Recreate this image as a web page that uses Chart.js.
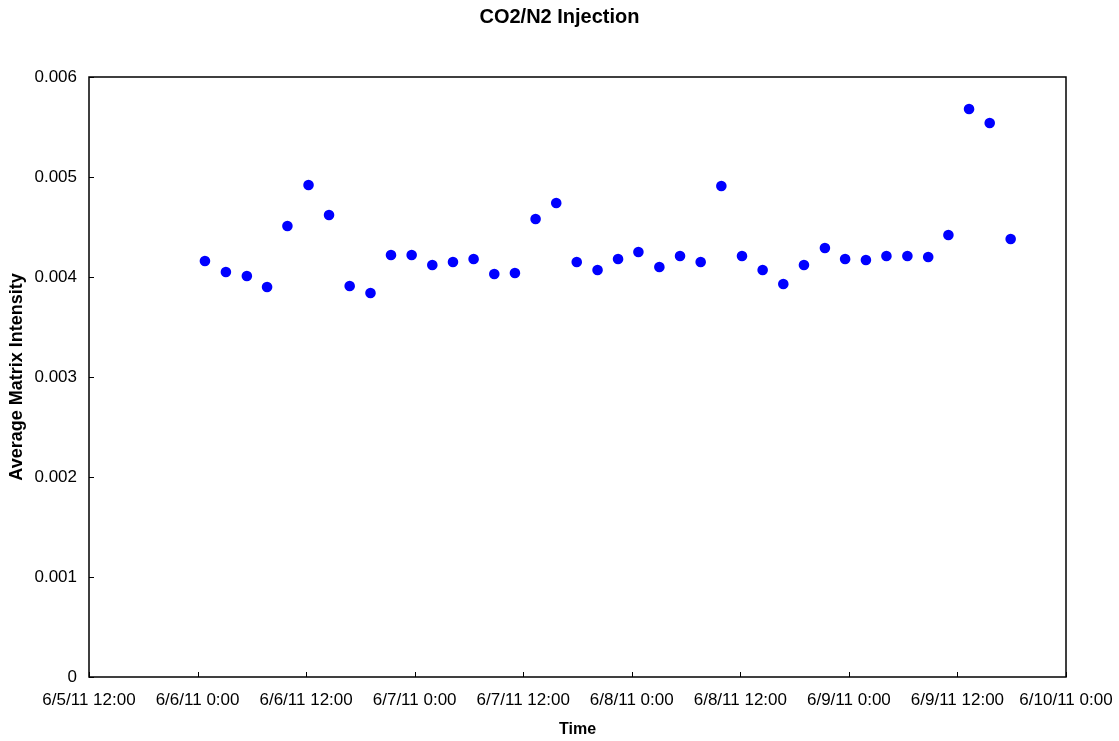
<!DOCTYPE html>
<html>
<head>
<meta charset="utf-8">
<title>CO2/N2 Injection</title>
<script src="https://cdn.jsdelivr.net/npm/chart.js@4.4.1/dist/chart.umd.min.js"></script>
<style>
  html, body { margin: 0; padding: 0; background: #fff; }
  #wrap { width: 1119px; height: 741px; }
</style>
</head>
<body>
<div id="wrap"><canvas id="inyeccion" width="1119" height="741"></canvas></div>
<script>
// sample times (m/d/yy h:mm) and average matrix intensity
var sampleTimes = [
  '6/6/11 0:49', '6/6/11 3:08', '6/6/11 5:27', '6/6/11 7:41', '6/6/11 9:56',
  '6/6/11 12:16', '6/6/11 14:32', '6/6/11 16:49', '6/6/11 19:07', '6/6/11 21:23',
  '6/6/11 23:40', '6/7/11 1:57', '6/7/11 4:14', '6/7/11 6:31', '6/7/11 8:48',
  '6/7/11 11:05', '6/7/11 13:22', '6/7/11 15:39', '6/7/11 17:55', '6/7/11 20:13',
  '6/7/11 22:29', '6/8/11 0:44', '6/8/11 3:03', '6/8/11 5:20', '6/8/11 7:37',
  '6/8/11 9:54', '6/8/11 12:11', '6/8/11 14:28', '6/8/11 16:45', '6/8/11 19:02',
  '6/8/11 21:21', '6/8/11 23:35', '6/9/11 1:53', '6/9/11 4:09', '6/9/11 6:28',
  '6/9/11 8:46', '6/9/11 11:00', '6/9/11 13:17', '6/9/11 15:34', '6/9/11 17:53'
];
var intensidad = [
  0.00416, 0.00405, 0.00401, 0.00390, 0.00451,
  0.00492, 0.00462, 0.00391, 0.00384, 0.00422,
  0.00422, 0.00412, 0.00415, 0.00418, 0.00403,
  0.00404, 0.00458, 0.00474, 0.00415, 0.00407,
  0.00418, 0.00425, 0.00410, 0.00421, 0.00415,
  0.00491, 0.00421, 0.00407, 0.00393, 0.00412,
  0.00429, 0.00418, 0.00417, 0.00421, 0.00421,
  0.00420, 0.00442, 0.00568, 0.00554, 0.00438
];
var inicioEje = '6/5/11 12:00';
var finEje = '6/10/11 0:00';
var yTicks = [0, 0.001, 0.002, 0.003, 0.004, 0.005, 0.006];

var DOCE_HORAS = 12 * 3600 * 1000;

function parseFecha(txt) {
  var p = txt.split(' ');
  var f = p[0].split('/');
  var h = p[1].split(':');
  return Date.UTC(2000 + Number(f[2]), Number(f[0]) - 1, Number(f[1]), Number(h[0]), Number(h[1]));
}

function formatFecha(ms) {
  var d = new Date(ms);
  var min = d.getUTCMinutes();
  return (d.getUTCMonth() + 1) + '/' + d.getUTCDate() + '/' + String(d.getUTCFullYear()).slice(2) +
    ' ' + d.getUTCHours() + ':' + (min < 10 ? '0' : '') + min;
}

var puntos = sampleTimes.map(function (t, i) {
  return { x: parseFecha(t), y: intensidad[i] };
});

// black frame round the plot plus short inward tick marks
var marco = {
  id: 'marco',
  afterDraw: function (chart) {
    var ctx = chart.ctx;
    var a = chart.chartArea;
    ctx.save();
    ctx.strokeStyle = '#000';
    ctx.lineWidth = 1.5;
    ctx.strokeRect(a.left, a.top, a.right - a.left, a.bottom - a.top);
    ctx.lineWidth = 1;
    ctx.beginPath();
    chart.scales.x.ticks.forEach(function (t) {
      var px = Math.round(chart.scales.x.getPixelForValue(t.value)) + 0.5;
      ctx.moveTo(px, a.bottom);
      ctx.lineTo(px, a.bottom - 5);
    });
    chart.scales.y.ticks.forEach(function (t) {
      var py = Math.round(chart.scales.y.getPixelForValue(t.value)) + 0.5;
      ctx.moveTo(a.left, py);
      ctx.lineTo(a.left + 5, py);
    });
    ctx.stroke();
    ctx.restore();
  }
};

Chart.defaults.font.family = "'Liberation Sans', Arial, sans-serif";
Chart.defaults.color = '#000';

var grafico = new Chart(document.getElementById('inyeccion').getContext('2d'), {
  type: 'scatter',
  data: {
    datasets: [{
      label: 'Average Matrix Intensity',
      data: puntos,
      backgroundColor: '#0000ff',
      borderColor: '#0000ff',
      borderWidth: 0,
      pointRadius: 5.3,
      pointHoverRadius: 5.3
    }]
  },
  options: {
    responsive: false,
    animation: false,
    layout: { padding: 0 },
    plugins: {
      legend: { display: false },
      tooltip: { enabled: false },
      title: {
        display: true,
        text: 'CO2/N2 Injection',
        font: { size: 20, weight: 'bold' },
        padding: { top: 5, bottom: 48 }
      }
    },
    scales: {
      x: {
        type: 'linear',
        min: parseFecha(inicioEje),
        max: parseFecha(finEje),
        grid: { display: true, drawOnChartArea: false, drawTicks: false },
        border: { display: false },
        afterFit: function (s) {
          s.height = 64;
          s.paddingRight = 53;
        },
        ticks: {
          stepSize: DOCE_HORAS,
          autoSkip: false,
          maxRotation: 0,
          padding: 13,
          font: { size: 17 },
          callback: function (v) { return formatFecha(v); }
        },
        title: {
          display: true,
          text: 'Time',
          font: { size: 16, weight: 'bold' },
          padding: { top: 0, bottom: 2 }
        }
      },
      y: {
        min: yTicks[0],
        max: yTicks[yTicks.length - 1],
        grid: { display: true, drawOnChartArea: false, drawTicks: false },
        border: { display: false },
        afterFit: function (s) { s.width = 89; },
        afterBuildTicks: function (s) {
          s.ticks = yTicks.map(function (v) { return { value: v }; });
        },
        ticks: {
          padding: 12,
          font: { size: 17 },
          callback: function (v) { return v === 0 ? '0' : v.toFixed(3); }
        },
        title: {
          display: true,
          text: 'Average Matrix Intensity',
          font: { size: 18, weight: 'bold' },
          padding: { top: 6, bottom: 0 }
        }
      }
    }
  },
  plugins: [marco]
});
</script>
</body>
</html>
